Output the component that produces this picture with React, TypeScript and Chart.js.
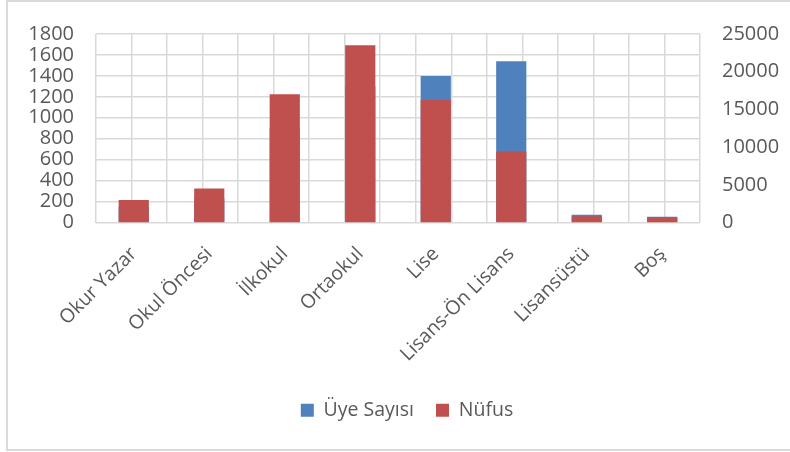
import React, { useEffect, useRef } from "react";
import { Chart, registerables } from "chart.js";

Chart.register(...registerables);

const categories = ["Okur Yazar", "Okul Öncesi", "İlkokul", "Ortaokul", "Lise", "Lisans-Ön Lisans", "Lisansüstü", "Boş"];
const uyeSayisi = [150, 230, 900, 1300, 1400, 1540, 75, 56];
const nufus = [3000, 4500, 17000, 23500, 16250, 9400, 820, 650];
const seriesNames = ["Üye Sayısı", "Nüfus"];
const seriesColors = ["#4f81bd", "#c0504d"];

const legendShift = {
  id: "legendShift",
  afterLayout(chart: any) {
    if (chart.legend) {
      chart.legend.left += 12;
      chart.legend.right += 12;
    }
  },
};

export default function App() {
  const ref = useRef<HTMLCanvasElement | null>(null);
  useEffect(() => {
    document.body.style.margin = "0";
    const ctx = ref.current!;
    const gridColor = "#d9d9d9";
    const tickFont = { family: "Open Sans", size: 20 };
    const chart = new Chart(ctx, {
      type: "bar",
      plugins: [legendShift],
      data: {
        labels: categories,
        datasets: [
          {
            label: seriesNames[0],
            data: uyeSayisi,
            backgroundColor: seriesColors[0],
            yAxisID: "y",
            order: 2,
            grouped: false,
            categoryPercentage: 1,
            barPercentage: 0.4,
          },
          {
            label: seriesNames[1],
            data: nufus,
            backgroundColor: seriesColors[1],
            yAxisID: "y1",
            order: 1,
            grouped: false,
            categoryPercentage: 1,
            barPercentage: 0.4,
          },
        ],
      },
      options: {
        animation: false,
        responsive: false,
        layout: { padding: { top: 21, bottom: 22, left: 0, right: 0 } },
        plugins: {
          tooltip: { enabled: false },
          legend: {
            position: "bottom",
            labels: {
              boxWidth: 13,
              boxHeight: 13,
              padding: 22,
              color: "#595959",
              font: { family: "Open Sans", size: 19.5 },
              sort: (a: any, b: any) => a.datasetIndex - b.datasetIndex,
            },
          },
        },
        scales: {
          x: {
            type: "category",
            grid: { display: false },
            border: { display: false },
            ticks: {
              minRotation: 45,
              maxRotation: 45,
              autoSkip: false,
              color: "#595959",
              font: { family: "Open Sans", size: 19.5 },
              padding: 12,
            },
            afterFit: (s: any) => {
              s.height = 156;
            },
          },
          xg: {
            type: "linear",
            position: "bottom",
            min: 0,
            max: 8,
            ticks: { display: false, stepSize: 0.5 },
            grid: { color: gridColor, lineWidth: 1.5, drawTicks: false },
            border: { display: false },
            afterFit: (s: any) => {
              s.height = 0;
            },
          },
          y: {
            position: "left",
            min: 0,
            max: 1800,
            ticks: {
              stepSize: 200,
              autoSkip: false,
              color: "#595959",
              font: tickFont,
              padding: 22,
              callback: (v: any) => String(v),
            },
            grid: { color: gridColor, lineWidth: 1.5, drawTicks: false },
            border: { display: false },
            afterFit: (s: any) => {
              s.width = 96;
            },
          },
          y1: {
            position: "right",
            min: 0,
            max: 25000,
            ticks: {
              stepSize: 5000,
              autoSkip: false,
              color: "#595959",
              font: tickFont,
              padding: 22,
              callback: (v: any) => String(v),
            },
            grid: { display: false, drawTicks: false },
            border: { display: false },
            afterFit: (s: any) => {
              s.width = 90;
            },
          },
        },
      },
    });
    return () => chart.destroy();
  }, []);
  return (
    <div style={{ position: "relative", width: 790, height: 452, overflow: "hidden", background: "#fff" }}>
      <div
        style={{
          position: "absolute",
          left: 6,
          top: 0,
          width: 820,
          height: 447,
          borderLeft: "2px solid #d9d9d9",
          borderTop: "2px solid #d9d9d9",
          borderBottom: "2px solid #d9d9d9",
        }}
      />
      <canvas ref={ref} width={790} height={452} style={{ position: "absolute", left: 0, top: 0 }} />
    </div>
  );
}
